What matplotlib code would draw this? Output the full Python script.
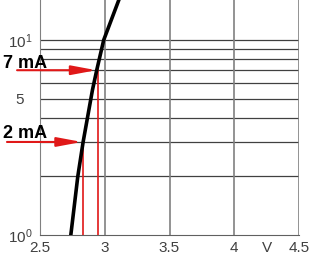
import matplotlib
matplotlib.use("Agg")
import matplotlib.pyplot as plt
from matplotlib.ticker import FixedLocator, NullLocator

plt.rcParams['font.family'] = ['Liberation Sans', 'DejaVu Sans']
plt.rcParams['mathtext.fontset'] = 'custom'
plt.rcParams['mathtext.rm'] = 'Liberation Sans'

# forward curve (V, mA)
volts = [2.738, 2.792, 2.833, 2.905, 2.938, 2.992, 3.108]
current = [1.0, 2.0, 3.0, 5.54, 7.0, 10.0, 16.0]

x_ticks = [2.5, 3, 3.5, 4, 4.5]
x_labels = ["2.5", "3", "3.5", "4", "4.5"]
y_grid = [2, 3, 4, 5, 6, 7, 8, 9, 10]
y_ticks = [1, 5, 10]
y_labels = [r"$\mathregular{10^0}$", "5", r"$\mathregular{10^1}$"]

# marked operating points: (label, arrow level, drop voltage)
marks = [("7 mA", 7.0, 2.945), ("2 mA", 3.0, 2.833)]
label_level = {"7 mA": 7.58, "2 mA": 3.33}
arrow_start = {"7 mA": 2.323, "2 mA": 2.245}

fig = plt.figure(figsize=(3.34, 2.66), dpi=100)
ax = fig.add_axes([40/334, 31/266, 259/334, 235/266])
ax.set_yscale('log')
ax.set_xlim(2.5, 4.5)
ax.set_ylim(1, 16.04)

for y in y_grid:
    ax.axhline(y, color='#404040', lw=0.9, zorder=1)
for x in x_ticks[1:]:
    ax.axvline(x, color='#808080', lw=1.2, zorder=1)

ax.plot(volts, current, color='black', lw=2.6, zorder=4, clip_on=True)

red = '#e01818'
for name, level, v in marks:
    ax.plot([v, v], [1, level], color=red, lw=1.2, zorder=3)
    ax.annotate('', xy=(v - 0.01, level), xytext=(arrow_start[name], level),
                xycoords='data', annotation_clip=False,
                arrowprops=dict(arrowstyle='-|>,head_length=1.5,head_width=0.28',
                                color=red, lw=1.5, mutation_scale=10,
                                shrinkA=0, shrinkB=0))
    ax.text(2.5 - 37/130, label_level[name], name, fontsize=13, fontweight='bold',
            ha='left', va='center', color='black', clip_on=False, zorder=5)

ax.xaxis.set_major_locator(FixedLocator(x_ticks))
ax.set_xticklabels(x_labels)
ax.yaxis.set_major_locator(FixedLocator(y_ticks))
ax.yaxis.set_minor_locator(NullLocator())
ax.set_yticklabels(y_labels)
ax.tick_params(axis='x', length=0, pad=4.5, labelsize=11, labelcolor='#404040')
ax.tick_params(axis='y', length=0, pad=14.4, labelsize=11, labelcolor='#404040')
for lab in ax.get_yticklabels():
    lab.set_horizontalalignment('center')
    lab.set_verticalalignment('center_baseline')

ax.text(4.25, -0.025, "V", transform=ax.get_xaxis_transform(), ha='center', va='top',
        fontsize=11, color='#404040')

for side in ['top', 'right']:
    ax.spines[side].set_visible(False)
ax.spines['left'].set_color('#808080')
ax.spines['bottom'].set_color('#606060')

fig.savefig("out.png", dpi=100)
